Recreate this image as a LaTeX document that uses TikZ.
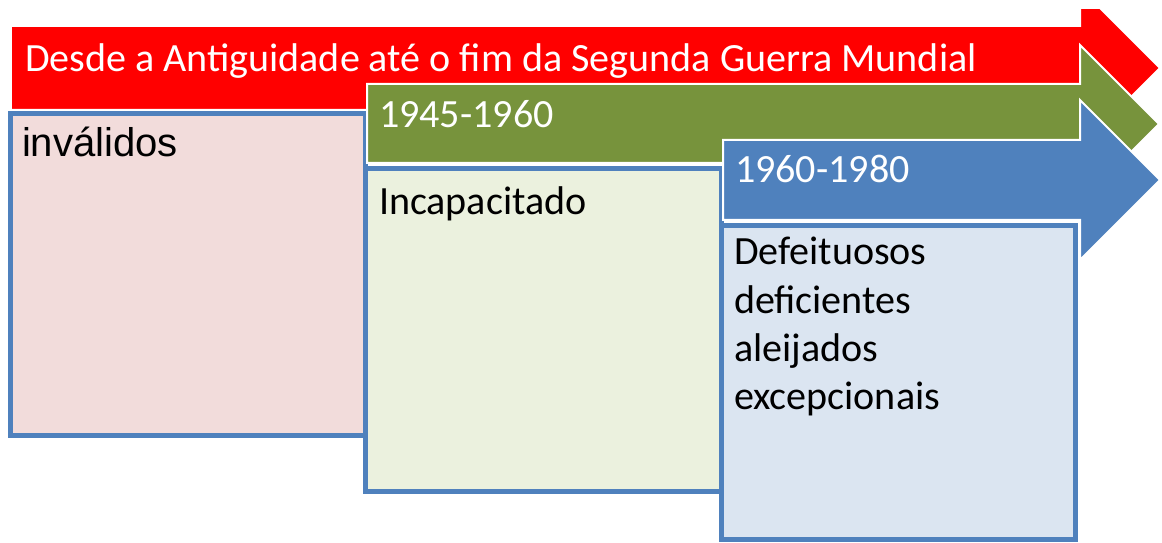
\documentclass[tikz,border=0pt]{standalone}
\usepackage{fontspec}
\setmainfont{Carlito}
\newfontfamily\arialfont{Liberation Sans}
\usepackage{tikz}
\definecolor{arrowred}{RGB}{255,0,0}
\definecolor{arrowgreen}{RGB}{119,147,60}
\definecolor{arrowblue}{RGB}{79,129,189}
\definecolor{boxline}{RGB}{79,129,189}
\definecolor{boxpink}{RGB}{242,220,219}
\definecolor{boxgreen}{RGB}{235,241,222}
\definecolor{boxblue}{RGB}{219,229,241}
\usetikzlibrary{positioning}

\begin{document}
\begin{tikzpicture}[x=0.02cm,y=-0.02cm,
    every node/.style={inner sep=0pt,outer sep=0pt,font=\fontsize{22.8}{27.5}\selectfont},
    arrowshape/.style={draw=white,line width=0.04cm,line join=miter},
    boxshape/.style={rectangle,draw=boxline,line width=0.1cm,anchor=north west},
    headtext/.style={anchor=base west,text=white},
    boxtext/.style={anchor=base west,text=black}
    ]
    \useasboundingbox (0,0) rectangle (1162,543);

    % the red arrow, cut at the top
    \begin{scope}
    \clip (0,10) rectangle (1162,543);
    \filldraw[arrowshape,fill=arrowred] (11,26) -- (1080,26) -- (1080,-12) -- (1160,68)
        -- (1080,148) -- (1080,110) -- (11,110) -- cycle;
    \end{scope}
    \node (box1) [boxshape,fill=boxpink,minimum width=7.1cm,minimum height=6.44cm] at (10.5,114) {};

    % the green arrow
    \filldraw[arrowshape,fill=arrowgreen] (367,84) -- (1080,84) -- (1080,45) -- (1159,124)
        -- (1080,203) -- (1080,163) -- (367,163) -- cycle;
    \node (box2) [boxshape,fill=boxgreen,minimum width=7.12cm,minimum height=6.46cm] at (365.5,169) {};

    % the blue arrow
    \filldraw[arrowshape,fill=arrowblue] (723,140) -- (1080,140) -- (1080,100) -- (1160,180)
        -- (1080,260) -- (1080,220) -- (723,220) -- cycle;
    \node (box3) [boxshape,fill=boxblue,minimum width=7.09cm,minimum height=6.28cm] at (721.5,225.5) {};

    % the texts
    \node (era1) [headtext] at (25,72) {Desde a Antiguidade até o fim da Segunda Guerra Mundial};
    \node (era2) [headtext] at (379,128) {1945-1960};
    \node (era3) [headtext] at (735,183) {1960-1980};
    \node (term1) [boxtext,font=\arialfont\fontsize{22.8}{27.5}\selectfont] at (22,157) {inválidos};
    \node (term2) [boxtext] at (379,215) {Incapacitado};
    \node (term3) [boxtext] at (734,265) {Defeituosos};
    \node (term4) [boxtext] at (734,313.5) {deficientes};
    \node (term5) [boxtext] at (734,362) {aleijados};
    \node (term6) [boxtext] at (734,410) {excepcionais};
\end{tikzpicture}
\end{document}
